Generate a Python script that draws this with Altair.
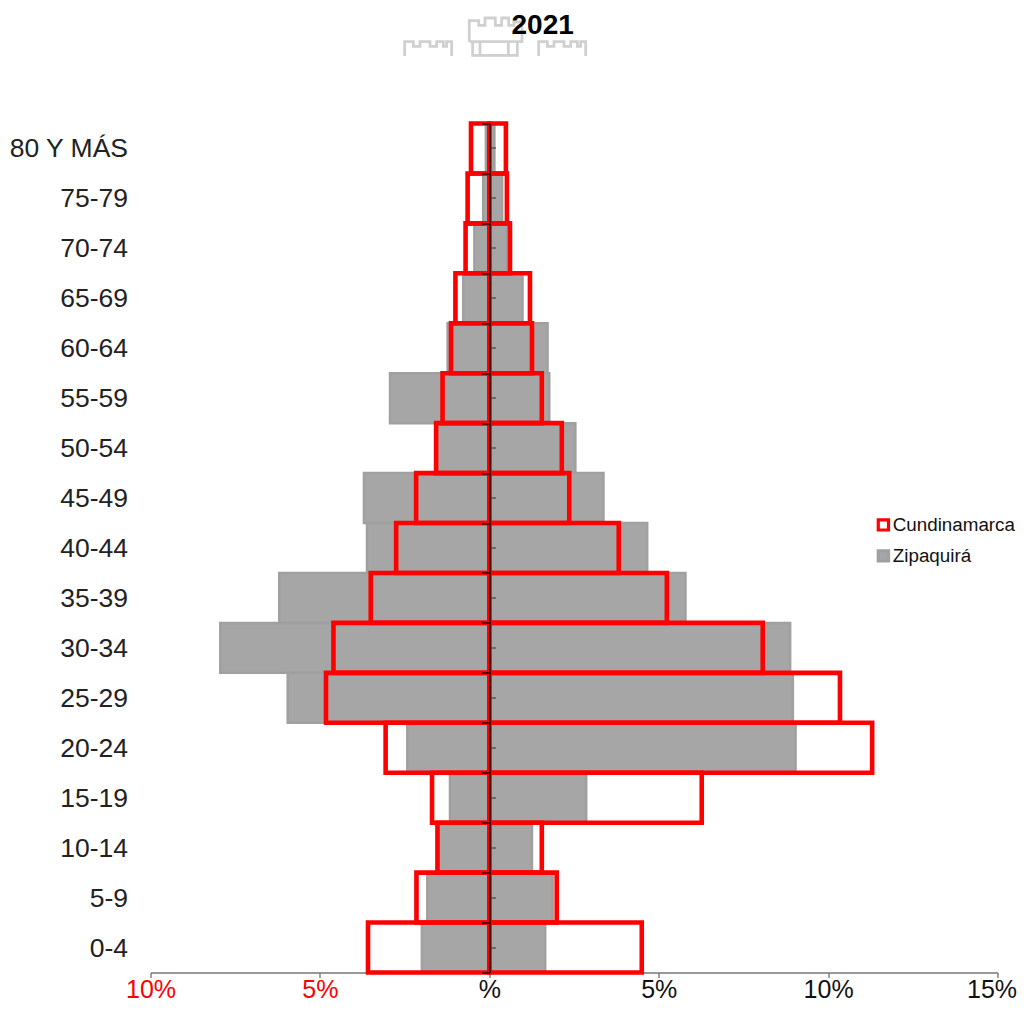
import altair as alt
import pandas as pd

AGES = ["80 Y MÁS", "75-79", "70-74", "65-69", "60-64", "55-59", "50-54", "45-49", "40-44",
        "35-39", "30-34", "25-29", "20-24", "15-19", "10-14", "5-9", "0-4"]
ZIP_LEFT = [-0.10, -0.18, -0.44, -0.77, -1.23, -2.93, -1.55, -3.70, -3.61,
            -6.20, -7.94, -5.95, -2.42, -1.16, -1.50, -1.83, -1.99]
ZIP_RIGHT = [0.15, 0.38, 0.52, 0.98, 1.72, 1.77, 2.54, 3.37, 4.66,
             5.79, 8.88, 8.96, 9.04, 2.86, 1.26, 1.87, 1.65]
CUN_LEFT = [-0.54, -0.64, -0.70, -1.00, -1.13, -1.38, -1.57, -2.16, -2.75,
            -3.50, -4.60, -4.82, -3.06, -1.69, -1.53, -2.15, -3.58]
CUN_RIGHT = [0.49, 0.52, 0.61, 1.20, 1.26, 1.55, 2.14, 2.36, 3.82,
             5.24, 8.07, 10.35, 11.30, 6.27, 1.55, 1.99, 4.50]
SERIES = ["Cundinamarca", "Zipaquirá"]
X_TICKS = [-10, -5, 0, 5, 10, 15]
TITLE = "2021"


def frame(name, left, right):
    rows = []
    for a, l, r in zip(AGES, left, right):
        rows.append({"age": a, "serie": name, "v": l})
        rows.append({"age": a, "serie": name, "v": r})
    return pd.DataFrame(rows)


zip_df = frame(SERIES[1], ZIP_LEFT, ZIP_RIGHT)
cun_df = frame(SERIES[0], CUN_LEFT, CUN_RIGHT)
age_df = pd.DataFrame({"age": AGES, "v": [0] * len(AGES)})

FONT = "Liberation Sans"
x_scale = alt.Scale(domain=[-10, 15], nice=False, zero=False)
y_scale = alt.Scale(domain=AGES, paddingInner=0, paddingOuter=0)
x_axis = alt.Axis(
    values=X_TICKS, grid=False, title=None,
    labelExpr="datum.value == 0 ? '%' : abs(datum.value) + '%'",
    labelColor=alt.ExprRef("datum.value < 0 ? '#ff0000' : '#111111'"),
    labelOffset=alt.ExprRef("datum.value == 15 ? -6 : 0"),
    labelFont=FONT, labelFontSize=25, labelPadding=0, labelFlush=False,
    domainColor="#777777", domainWidth=1.5, tickColor="#444444", tickSize=5, tickWidth=1,
)
x_enc = alt.X("v:Q", scale=x_scale, axis=x_axis)
stroke_enc = alt.Stroke("serie:N", title=None, scale=alt.Scale(domain=SERIES, range=["#ff0000", "#a0a0a0"]),
                        legend=alt.Legend(
                            orient="none", legendX=723.5, legendY=392, title=None,
                            symbolType="square", symbolSize=105, symbolStrokeWidth=3.2,
                            labelFont=FONT, labelFontSize=18.8, labelColor="#111111",
                            labelOffset=0, rowPadding=7,
                        ))
fill_enc = alt.Fill("serie:N", title=None, scale=alt.Scale(domain=SERIES, range=["transparent", "#a6a6a6"]))

gray = alt.Chart(zip_df).mark_bar(strokeWidth=2.5).encode(
    x=x_enc,
    y=alt.Y("age:N", sort=AGES, scale=y_scale, title=None,
            axis=alt.Axis(orient="left", ticks=False, domain=False, grid=False,
                          labelFont=FONT, labelFontSize=26.5, labelColor="#222222", labelPadding=23,
                          labelOffset=1)),
    stroke=stroke_enc, fill=fill_enc,
)
red = alt.Chart(cun_df).mark_bar(strokeWidth=4.6).encode(
    x=x_enc,
    y=alt.Y("age:N", sort=AGES, scale=y_scale, title=None,
            axis=alt.Axis(orient="left", offset=-339, labels=False, grid=False, tickBand="extent",
                          domainColor="#000000", domainWidth=1.5, tickColor="#000000", tickSize=8,
                          tickWidth=1.2, zindex=1)),
    stroke=stroke_enc, fill=fill_enc,
)
center_ticks = alt.Chart(age_df).mark_bar(opacity=0).encode(
    x=x_enc,
    y=alt.Y("age:N", sort=AGES, scale=y_scale, title=None,
            axis=alt.Axis(orient="right", offset=-508, labels=False, grid=False, domain=False,
                          tickColor="#333333", tickSize=6, tickWidth=1, zindex=1)),
)

# faint castle emblem behind the title, given as small glyph outlines (R = half-size in px)
R = 30.0
def glyph(cmds, cx, cy):
    out = []
    for c, x, y in cmds:
        out.append(f"{c}{(x / 3 + 380 - cx) / R:.3f},{(y / 3 - cy) / R:.3f}")
    return " ".join(out)

BIG = [("M", 268, 125), ("L", 268, 62), ("L", 296, 62), ("L", 296, 76), ("L", 315, 76), ("L", 315, 54), ("L", 346, 54),
       ("L", 346, 76), ("L", 365, 76), ("L", 365, 54), ("L", 386, 54), ("L", 386, 76), ("L", 402, 76), ("L", 402, 66),
       ("L", 426, 66), ("L", 426, 125), ("L", 268, 125),
       ("M", 278, 125), ("L", 278, 166), ("L", 300, 166), ("L", 300, 125),
       ("M", 385, 125), ("L", 385, 166), ("L", 412, 166), ("L", 412, 125),
       ("M", 300, 166), ("L", 385, 166)]
SMALL_L = [("M", 74, 168), ("L", 74, 125), ("L", 100, 125), ("L", 100, 139), ("L", 120, 139), ("L", 120, 125), ("L", 150, 125),
           ("L", 150, 139), ("L", 170, 139), ("L", 170, 125), ("L", 190, 125), ("L", 190, 139), ("L", 200, 139), ("L", 200, 125),
           ("L", 215, 125), ("L", 215, 168)]
SMALL_R = [(c, x + 402, y) for c, x, y in SMALL_L]
EMBLEM = [(BIG, 495.0, 37.0), (SMALL_L, 428.0, 48.0), (SMALL_R, 562.0, 48.0)]

castles = [
    alt.Chart(age_df.head(1)).mark_point(
        shape=glyph(cmds, cx, cy), size=(2 * R) ** 2, filled=False, stroke="#d0d0d0", strokeWidth=2.8, opacity=1
    ).encode(x=alt.value(cx - 150.5), y=alt.value(cy - 123.5))
    for cmds, cx, cy in EMBLEM
]
title_mark = alt.Chart(age_df.head(1)).mark_text(
    text=TITLE, font=FONT, fontSize=28, fontWeight="bold", color="#000000", align="left", baseline="alphabetic"
).encode(x=alt.value(361), y=alt.value(-90))

chart = alt.layer(gray, red, center_ticks, *castles, title_mark).resolve_axis(y="independent").properties(
    width=847, height=849,
    autosize=alt.AutoSizeParams(type="none"),
    padding={"left": 142.5, "top": 115.5, "right": 19.5, "bottom": 30},
).configure_view(stroke=None)

chart.save("out.html", embed_options={"renderer": "svg", "actions": False})
